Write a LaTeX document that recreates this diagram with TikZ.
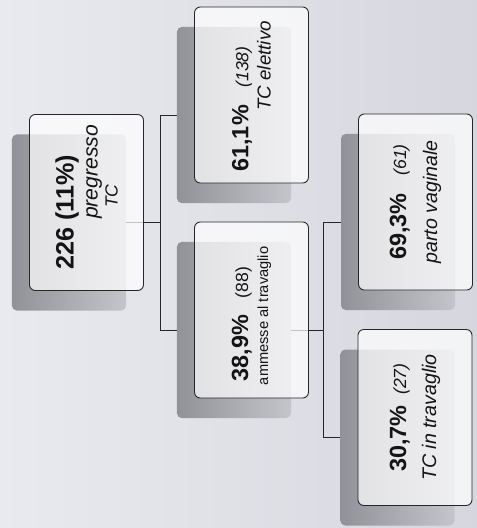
\documentclass[tikz,border=0pt]{standalone}
\usepackage{fontspec}
\setmainfont{Liberation Sans}
\usetikzlibrary{positioning}
\definecolor{paperA}{RGB}{233,234,239}
\definecolor{paperB}{RGB}{214,215,222}
\definecolor{shadeA}{RGB}{145,146,151}
\definecolor{shadeB}{RGB}{196,197,203}
\definecolor{inkline}{RGB}{38,38,40}
% one line of a box, moved along the text by #1
\newcommand{\nudge}[2]{\makebox[0pt]{\hspace*{#1}#2\hspace*{-#1}}}
\newcommand{\fs}[1]{\fontsize{#1}{#1}\selectfont}

\begin{document}
\begin{tikzpicture}[x=0.03cm, y=-0.03cm,
    card/.style={draw=inkline, line width=0.75pt, rounded corners=5pt, fill=white,
      fill opacity=0.72, text opacity=1, rotate=90, minimum width=5.28cm,
      minimum height=3.42cm, inner sep=0pt, align=center, text=black!92},
    cardsh/.style={rounded corners=4pt, left color=shadeA, right color=shadeB,
      minimum width=3.42cm, minimum height=5.28cm, inner sep=0pt},
    link/.style={draw=inkline, line width=0.75pt}]
  % scanned paper
  \fill[left color=paperA, right color=paperB] (0,0) rectangle (477,528);
  % shadows behind the boxes
  \node[cardsh] (rootsh) at (69,222.5) {};
  \node[cardsh] (electsh) at (234,115) {};
  \node[cardsh] (laboursh) at (234,330) {};
  \node[cardsh] (vagsh) at (398,222) {};
  \node[cardsh] (cslsh) at (397.5,437.5) {};
  % tree lines
  \coordinate[right=1.02cm of rootsh.east] (fork1);
  \coordinate[right=0.96cm of laboursh.east] (fork2);
  \draw[link] (rootsh.east) -- (fork1) |- (electsh.west);
  \draw[link] (fork1) |- (laboursh.west);
  \draw[link] (laboursh.east) -- (fork2) |- (vagsh.west);
  \draw[link] (fork2) |- (cslsh.west);
  % boxes
  \node[card, font=\fontsize{12}{17}\selectfont] (root) at ([shift={(17.5,-20)}]rootsh.center)
    {\nudge{-8.5pt}{\fs{21.5}\bfseries 226 (11\%)}\\[3.5pt]
     \nudge{26pt}{\fs{18}\itshape pregresso}\\
     \nudge{5.5pt}{\fs{15}\itshape TC}};
  \node[card, font=\fontsize{12}{19}\selectfont] (elect) at ([shift={(17.5,-20)}]electsh.center)
    {\nudge{-12pt}{{\fs{20}\bfseries 61,1\%}\hspace{15pt}{\fs{15}\itshape (138)}}\\
     \nudge{24.8pt}{\fs{16}\itshape TC elettivo}};
  \node[card, font=\fontsize{12}{17}\selectfont] (labour) at ([shift={(17.5,-20)}]laboursh.center)
    {\nudge{-12pt}{{\fs{20}\bfseries 38,9\%}\hspace{14pt}{\fs{15}(88)}}\\
     \nudge{-5pt}{\fs{12.5}ammesse al travaglio}};
  \node[card, font=\fontsize{12}{26.5}\selectfont] (vag) at ([shift={(17.5,-20)}]vagsh.center)
    {\nudge{0pt}{{\fs{20}\bfseries 69,3\%}\hspace{15pt}{\fs{15}\itshape (61)}}\\
     \nudge{0pt}{\fs{16.7}\itshape parto vaginale}};
  \node[card, font=\fontsize{12}{25.6}\selectfont] (csl) at ([shift={(17.5,-20)}]cslsh.center)
    {\nudge{0pt}{{\fs{20}\bfseries 30,7\%}\hspace{9pt}{\fs{15}\itshape (27)}}\\
     \nudge{0pt}{\fs{16.8}\itshape TC in travaglio}};
\end{tikzpicture}
\end{document}
